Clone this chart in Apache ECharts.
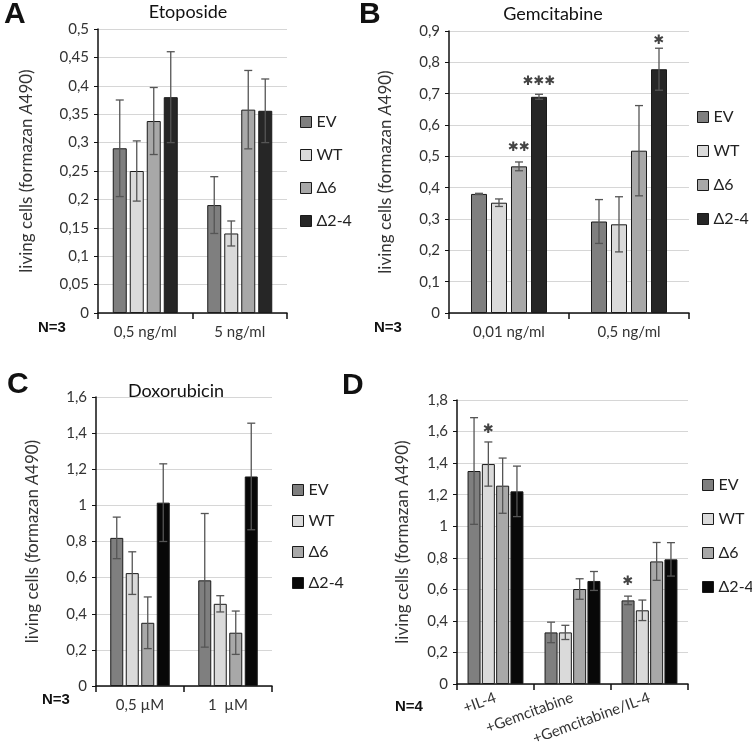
<!DOCTYPE html>
<html>
<head>
<meta charset="utf-8">
<script src="https://cdn.jsdelivr.net/npm/echarts@6/dist/echarts.min.js"></script>
<style>html,body{margin:0;padding:0;background:#fff;}#c{width:752px;height:755px;}</style>
</head>
<body>
<div id="c"></div>
<script>
// ---------- DATA ----------
const groupNames = ['EV', 'WT', 'Δ6', 'Δ2-4'];

const catsA = ['0,5 ng/ml', '5 ng/ml'];
const meansA = [[0.29, 0.19], [0.25, 0.14], [0.338, 0.358], [0.38, 0.356]];
const errsA  = [[0.085, 0.05], [0.053, 0.022], [0.059, 0.069], [0.08, 0.056]];

const catsB = ['0,01 ng/ml', '0,5 ng/ml'];
const meansB = [[0.38, 0.292], [0.352, 0.283], [0.468, 0.518], [0.69, 0.778]];
const errsB  = [[0.002, 0.07], [0.012, 0.088], [0.014, 0.144], [0.008, 0.067]];
const starsB = [[0, 2, 0.527, 2], [0, 3, 0.74, 3], [1, 3, 0.87, 1]];

const catsC = ['0,5 µM', '1  µM'];
const meansC = [[0.82, 0.585], [0.625, 0.455], [0.35, 0.295], [1.015, 1.16]];
const errsC  = [[0.115, 0.37], [0.118, 0.045], [0.143, 0.12], [0.215, 0.295]];

const catsD = ['+IL-4', '+Gemcitabine', '+Gemcitabine/IL-4'];
const meansD = [[1.35, 0.327, 0.53], [1.394, 0.327, 0.467], [1.257, 0.602, 0.777], [1.221, 0.653, 0.79]];
const errsD  = [[0.338, 0.065, 0.027], [0.14, 0.045, 0.065], [0.175, 0.065, 0.12], [0.16, 0.06, 0.106]];
const starsD = [[0, 1, 1.61, 1], [2, 0, 0.646, 1]];

// ---------- STYLE / LAYOUT ----------
const FONT = 'Lato, "Open Sans", sans-serif';
const colorsAB = ['#7f7f7f', '#dadada', '#a8a8a8', '#262626'];
const colorsCD = ['#7f7f7f', '#dadada', '#a8a8a8', '#080808'];

const panels = [
  { cats: catsA, means: meansA, errs: errsA, stars: [], grid: { left: 98, top: 29, width: 189, height: 284 }, max: 0.5, interval: 0.05, bw: 14, gap: 3, colors: colorsAB, rotate: 0, nameGap: 63, legend: { left: 295, top: 109, gap: 17 } },
  { cats: catsB, means: meansB, errs: errsB, stars: starsB, grid: { left: 449, top: 31, width: 240, height: 282 }, max: 0.9, interval: 0.1, bw: 16, gap: 4, colors: colorsAB, rotate: 0, nameGap: 55, legend: { left: 692, top: 104, gap: 18 } },
  { cats: catsC, means: meansC, errs: errsC, stars: [], grid: { left: 96, top: 397, width: 176, height: 289 }, max: 1.6, interval: 0.2, bw: 13, gap: 2.5, colors: colorsCD, rotate: 0, nameGap: 55, legend: { left: 287, top: 477, gap: 15 } },
  { cats: catsD, means: meansD, errs: errsD, stars: starsD, grid: { left: 457, top: 400, width: 231, height: 284 }, max: 1.8, interval: 0.2, bw: 13, gap: 1.3, colors: colorsCD, rotate: 20, nameGap: 46, legend: { left: 697, top: 472, gap: 18 } }
];

const fmt = v => String(Math.round(v * 1000) / 1000).replace('.', ',');

const grid = [], xAxis = [], yAxis = [], series = [], legend = [];

panels.forEach((p, idx) => {
  grid.push(Object.assign({ containLabel: false }, p.grid));
  xAxis.push({
    type: 'category', gridIndex: idx, data: p.cats,
    axisLine: { lineStyle: { color: '#111', width: 1.5 } },
    axisTick: { show: true, length: 6, lineStyle: { color: '#111', width: 1.5 } },
    axisLabel: { fontSize: 15, color: '#333', fontFamily: FONT, margin: p.rotate ? 13 : 12, rotate: p.rotate, interval: 0 }
  });
  yAxis.push({
    type: 'value', gridIndex: idx, min: 0, max: p.max, interval: p.interval,
    axisLine: { show: true, lineStyle: { color: '#111', width: 1.5 } },
    axisTick: { show: true, length: 4, lineStyle: { color: '#111' } },
    splitLine: { show: true, lineStyle: { color: '#d6d6d6', width: 1 } },
    axisLabel: { fontSize: 15, color: '#333', fontFamily: FONT, margin: 9, formatter: fmt },
    name: 'living cells (formazan {i|A}490)', nameLocation: 'middle', nameGap: p.nameGap, nameRotate: 90,
    nameTextStyle: { fontSize: 17, color: '#333', fontFamily: FONT, rich: { i: { fontStyle: 'italic', fontSize: 17, color: '#333', fontFamily: FONT } } }
  });
  groupNames.forEach((g, gi) => {
    series.push({
      type: 'bar', name: g, xAxisIndex: idx, yAxisIndex: idx,
      data: p.means[gi], barWidth: p.bw, barGap: (p.gap / p.bw * 100) + '%',
      itemStyle: { color: p.colors[gi], borderColor: '#1a1a1a', borderWidth: 1 },
      emphasis: { disabled: true }, animation: false
    });
  });
  const errData = [];
  p.means.forEach((row, gi) => row.forEach((m, ci) => errData.push([ci, gi, m, p.errs[gi][ci]])));
  const bw = p.bw, gp = p.gap;
  series.push({
    type: 'custom', xAxisIndex: idx, yAxisIndex: idx, z: 10, animation: false, silent: true,
    data: errData, encode: { x: 0, y: 2 },
    renderItem: (params, api) => {
      const cat = api.value(0), gi = api.value(1), m = api.value(2), e = api.value(3);
      const off = (gi - 1.5) * (bw + gp);
      const t = api.coord([cat, m + e]), b = api.coord([cat, m - e]);
      const x = t[0] + off, cw = 4;
      const ls = { stroke: '#555', lineWidth: 1.3 };
      return { type: 'group', children: [
        { type: 'line', shape: { x1: x, y1: t[1], x2: x, y2: b[1] }, style: ls },
        { type: 'line', shape: { x1: x - cw, y1: t[1], x2: x + cw, y2: t[1] }, style: ls },
        { type: 'line', shape: { x1: x - cw, y1: b[1], x2: x + cw, y2: b[1] }, style: ls }
      ] };
    }
  });
  if (p.stars.length) {
    series.push({
      type: 'custom', xAxisIndex: idx, yAxisIndex: idx, z: 11, animation: false, silent: true,
      data: p.stars, encode: { x: 0, y: 2 },
      renderItem: (params, api) => {
        const cat = api.value(0), gi = api.value(1), v = api.value(2), n = api.value(3);
        const off = (gi - 1.5) * (bw + gp);
        const c = api.coord([cat, v]);
        return { type: 'text', x: c[0] + off, y: c[1],
          style: { text: '✱'.repeat(n), fill: '#444', font: '13px "DejaVu Sans"', align: 'center', verticalAlign: 'middle', textAlign: 'center', textVerticalAlign: 'middle' } };
      }
    });
  }
  legend.push({
    orient: 'vertical', left: p.legend.left, top: p.legend.top, itemGap: p.legend.gap,
    itemWidth: 11, itemHeight: 11, icon: 'rect', selectedMode: false,
    textStyle: { fontSize: 16, color: '#222', fontFamily: FONT },
    data: groupNames.map((g, gi) => ({ name: g, itemStyle: { color: p.colors[gi], borderColor: '#1a1a1a', borderWidth: 1 } }))
  });
});

const txt = (x, y, text, font, align) => ({
  type: 'text', x: x, y: y, silent: true,
  style: { text: text, font: font, fill: '#111', align: align || 'center', verticalAlign: 'middle', textAlign: align || 'center', textVerticalAlign: 'middle' }
});
const letterFont = 'bold 30px "Liberation Sans", Arial, sans-serif';
const titleFont = '18px ' + FONT;
const nFont = 'bold 15px "Liberation Sans", Arial, sans-serif';

const graphic = [
  txt(4, 15, 'A', letterFont, 'left'),
  txt(359, 15, 'B', letterFont, 'left'),
  txt(7, 385, 'C', letterFont, 'left'),
  txt(342, 386, 'D', letterFont, 'left'),
  txt(188, 12, 'Etoposide', titleFont),
  txt(553, 14, 'Gemcitabine', titleFont),
  txt(176, 391, 'Doxorubicin', titleFont),
  txt(38, 328, 'N=3', nFont, 'left'),
  txt(374, 328, 'N=3', nFont, 'left'),
  txt(42, 700, 'N=3', nFont, 'left'),
  txt(395, 707, 'N=4', nFont, 'left')
];

const chart = echarts.init(document.getElementById('c'), null, { renderer: 'canvas' });
chart.setOption({
  backgroundColor: '#fff',
  animation: false,
  grid: grid, xAxis: xAxis, yAxis: yAxis, series: series, legend: legend, graphic: graphic
});
</script>
</body>
</html>
